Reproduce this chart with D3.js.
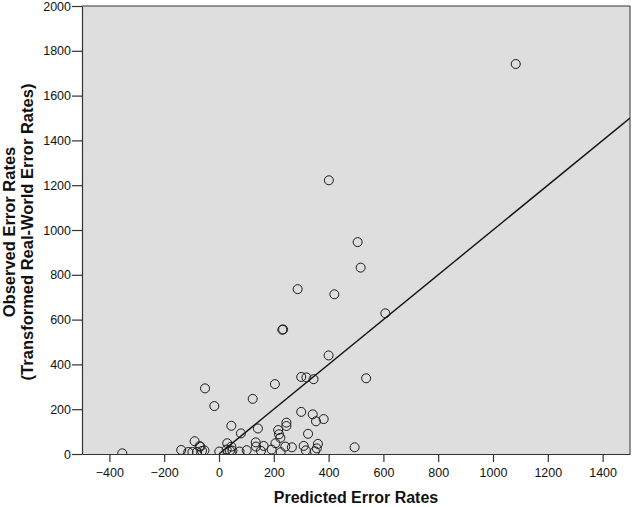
<!DOCTYPE html>
<html>
<head>
<meta charset="utf-8">
<script src="https://cdn.jsdelivr.net/npm/d3@7"></script>
<style>
  html, body { margin: 0; padding: 0; background: #ffffff; }
  svg { display: block; }
</style>
</head>
<body>
<svg id="chart" width="633" height="507"></svg>
<script>
// ---- data ----
const predicted = [1083, 401, 506, 517, 287, 421, 607, 231, 234, 400, 537, 300, 319, 345, 204,
  -51, 123, -17, 300, 342, 354, 382, 45, 142, 80, 246, 246, 216, 219, 224, 325,
  30, 45, 134, 135, 163, 206, 242, 266, 309, 361, 357, 495, 350, 317, 225, 192,
  153, 101, 75, 49, 1, -53, -68, -353, -138, -112, -89, -97, -80, -62, -71, 28, 40];
const observed = [1741, 1222, 946, 832, 736, 713, 628, 555, 556, 440, 338, 344, 342, 334, 312,
  293, 246, 214, 188, 177, 146, 156, 126, 114, 92, 140, 125, 107, 88, 72, 90,
  48, 33, 52, 33, 36, 48, 33, 30, 36, 45, 25, 30, 12, 16, 8, 20,
  14, 17, 11, 15, 11, 16, 33, 3, 18, 9, 57, 9, 9, 14, 35, 20, 15];
const xTicks = [-400, -200, 0, 200, 400, 600, 800, 1000, 1200, 1400];
const yTicks = [0, 200, 400, 600, 800, 1000, 1200, 1400, 1600, 1800, 2000];
const xDomain = [-500, 1500];
const yDomain = [0, 2000];
const fitIntercept = 0;
const fitSlope = 1;
const fitRange = [0, 1500];
const xTitle = "Predicted Error Rates";
const yTitleLines = ["Observed Error Rates", "(Transformed Real-World Error Rates)"];

// ---- layout ----
const L = 82, R = 630, T = 6, B = 454;
const svg = d3.select("#chart");
const x = d3.scaleLinear().domain(xDomain).range([L, R]);
const y = d3.scaleLinear().domain(yDomain).range([B, T]);
const fmt = d3.format("d");

svg.append("rect").attr("x", L).attr("y", T).attr("width", R - L).attr("height", B - T)
  .attr("fill", "#dedede");

svg.append("clipPath").attr("id", "clip").append("rect")
  .attr("x", L).attr("y", T).attr("width", R - L).attr("height", B - T);

const g = svg.append("g").attr("clip-path", "url(#clip)");

// fit line
const fitData = fitRange.map(v => ({ x: v, y: fitIntercept + fitSlope * v }));
g.append("path")
  .datum(fitData)
  .attr("d", d3.line().x(d => x(d.x)).y(d => y(d.y)))
  .attr("fill", "none").attr("stroke", "#111").attr("stroke-width", 1.4);

// points
g.selectAll("circle.pt").data(predicted.map((p, i) => ({ p, o: observed[i] })))
  .enter().append("circle").attr("class", "pt")
  .attr("cx", d => x(d.p)).attr("cy", d => y(d.o)).attr("r", 4.5)
  .attr("fill", "none").attr("stroke", "#1a1a1a").attr("stroke-width", 1);

// border top/right
svg.append("path").attr("d", `M${L},${T}H${R}V${B}`).attr("fill", "none")
  .attr("stroke", "#333").attr("stroke-width", 1);

// axes
const xAxis = svg.append("g").attr("transform", `translate(0,${B})`)
  .call(d3.axisBottom(x).tickValues(xTicks).tickFormat(fmt).tickSize(8).tickPadding(6).tickSizeOuter(0));
const yAxis = svg.append("g").attr("transform", `translate(${L},0)`)
  .call(d3.axisLeft(y).tickValues(yTicks).tickFormat(fmt).tickSize(10).tickPadding(1).tickSizeOuter(0));
[xAxis, yAxis].forEach(a => {
  a.select(".domain").attr("stroke", "#333").attr("stroke-width", 1.2);
  a.selectAll(".tick line").attr("stroke", "#333").attr("stroke-width", 1.2);
  a.selectAll(".tick text").attr("fill", "#111")
    .style("font-family", "Liberation Sans, Arial, sans-serif").style("font-size", "12.5px");
});

// titles
svg.append("text").attr("x", (L + R) / 2).attr("y", 503).attr("text-anchor", "middle")
  .style("font-family", "Liberation Sans, Arial, sans-serif").style("font-size", "16px")
  .style("font-weight", "bold").attr("fill", "#111").text(xTitle);

const yt = svg.append("text").attr("transform", `translate(0,${(T + B) / 2 + 2}) rotate(-90)`)
  .attr("text-anchor", "middle")
  .style("font-family", "Liberation Sans, Arial, sans-serif").style("font-size", "16.5px")
  .style("font-weight", "bold").attr("fill", "#111");
yTitleLines.forEach((t, i) => {
  yt.append("tspan").attr("x", 0).attr("y", 15 + i * 18).text(t);
});
</script>
</body>
</html>
